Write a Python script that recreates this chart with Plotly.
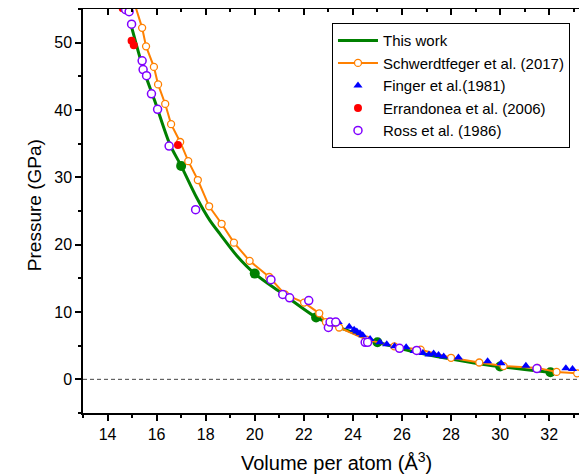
import plotly.graph_objects as go

# This work (curve) and its highlighted points
this_x = [14.93, 15.45, 15.93, 16.54, 17.0, 17.63, 18.17, 18.58, 19.26, 20.0, 21.1, 22.5,
          23.0, 23.5, 24.0, 24.5, 25.0, 25.5, 26.0, 27.0, 28.0, 29.0, 30.0, 31.0, 32.1]
this_y = [53.0, 46.2, 41.3, 34.9, 31.7, 27.0, 23.6, 21.6, 18.4, 15.7, 12.8, 9.2,
          8.4, 7.65, 6.95, 6.2, 5.5, 5.0, 4.5, 3.7, 3.0, 2.4, 1.9, 1.45, 1.0]
dots_x = [17.0, 20.0, 22.5, 25.0, 30.0, 32.05]
dots_y = [31.7, 15.7, 9.2, 5.5, 1.9, 1.05]

# Schwerdtfeger et al. (2017)
sch_x = [15.1, 15.41, 15.57, 15.89, 16.06, 16.35, 16.59, 16.96, 17.29, 17.68, 18.14, 18.65,
         19.15, 19.79, 20.59, 21.23, 22.01, 22.63, 22.9, 23.44, 24.55, 25.69, 26.76, 28.0,
         29.15, 30.14, 31.52, 32.3, 33.14, 33.7]
sch_y = [55.8, 52.2, 49.45, 46.4, 43.8, 40.9, 37.9, 35.25, 32.4, 29.6, 25.7, 23.1,
         20.3, 17.6, 15.2, 12.6, 11.4, 9.8, 8.5, 7.7, 5.9, 4.9, 4.4, 3.2,
         2.5, 1.97, 1.7, 1.1, 0.89, 0.7]

# Finger et al. (1981)
fin_x = [23.4, 23.85, 24.05, 24.16, 24.29, 24.4, 24.7, 25.1, 25.38, 25.7, 26.17, 26.5,
         26.85, 27.1, 27.29, 27.49, 27.7, 28.3, 29.49, 30.04, 31.05, 32.68, 32.95]
fin_y = [8.5, 7.8, 7.35, 7.1, 6.85, 6.55, 6.0, 5.5, 5.2, 4.9, 4.75, 4.2,
         3.9, 3.7, 3.85, 3.6, 3.4, 3.25, 2.7, 2.4, 2.0, 1.65, 1.55]

# Errandonea et al. (2006)
err_x = [14.62, 14.98, 15.07, 16.87]
err_y = [55.1, 50.3, 49.6, 34.8]

# Ross et al. (1986)
ros_x = [14.74, 14.88, 14.98, 15.41, 15.45, 15.59, 15.79, 16.04, 16.51, 17.59, 20.66, 21.14,
         21.42, 22.2, 23.0, 23.07, 23.3, 24.5, 24.6, 25.9, 26.6, 31.5]
ros_y = [54.9, 54.6, 52.75, 47.3, 46.0, 45.1, 42.4, 40.1, 34.65, 25.2, 14.8, 12.6,
         12.1, 11.7, 7.7, 8.5, 8.5, 5.5, 5.5, 4.6, 4.3, 1.6]

x_ticks = [14, 16, 18, 20, 22, 24, 26, 28, 30, 32]
y_ticks = [0, 10, 20, 30, 40, 50]
x_range = [13, 33.5]
y_range = [-5, 55]

GREEN = "#008000"
ORANGE = "#FF8000"
BLUE = "#0000FF"
RED = "#FF0000"
PURPLE = "#8000FF"
FONT = "Liberation Sans, Arial, sans-serif"

fig = go.Figure()
fig.add_trace(go.Scatter(x=this_x, y=this_y, mode="lines", name="This work",
                         line=dict(color=GREEN, width=3, shape="spline", smoothing=0.8)))
fig.add_trace(go.Scatter(x=dots_x, y=dots_y, mode="markers", showlegend=False,
                         marker=dict(color=GREEN, size=10, symbol="circle")))
fig.add_trace(go.Scatter(x=sch_x, y=sch_y, mode="lines+markers",
                         name="Schwerdtfeger et al. (2017)",
                         line=dict(color=ORANGE, width=2),
                         marker=dict(symbol="circle", size=7, color="white",
                                     line=dict(color=ORANGE, width=1.3))))
fig.add_trace(go.Scatter(x=fin_x, y=fin_y, mode="markers", name="Finger et al.(1981)",
                         marker=dict(symbol="triangle-up", size=8, color=BLUE)))
fig.add_trace(go.Scatter(x=err_x, y=err_y, mode="markers", name="Errandonea et al. (2006)",
                         marker=dict(symbol="circle", size=8, color=RED)))
fig.add_trace(go.Scatter(x=ros_x, y=ros_y, mode="markers", name="Ross et al. (1986)",
                         marker=dict(symbol="circle", size=8, color="white",
                                     line=dict(color=PURPLE, width=1.5))))

fig.add_shape(type="line", xref="paper", yref="y", x0=0, x1=1, y0=0, y1=0,
              line=dict(color="#444444", width=1, dash="4px,3px"), layer="below")

# axis titles as annotations for exact placement
fig.add_annotation(text="Volume per atom (Å<sup>3</sup>)", xref="paper", yref="paper",
                   x=0.503, y=-0.12, xanchor="center", yanchor="middle", showarrow=False,
                   font=dict(family=FONT, size=20, color="black"))
fig.add_annotation(text="Pressure (GPa)", xref="paper", yref="paper",
                   x=-0.095, y=0.515, xanchor="center", yanchor="middle", showarrow=False,
                   textangle=-90, font=dict(family=FONT, size=19, color="black"))

axis_common = dict(showgrid=False, zeroline=False, linecolor="black", linewidth=1.5,
                   tickcolor="black", tickwidth=1.5, ticklen=6, automargin=False,
                   tickfont=dict(family=FONT, size=16, color="black"))

# The page body adds an 8 px offset, so the figure is sized to fill the rest of the window.
fig.update_layout(
    width=579, height=468,
    margin=dict(l=75, r=1, t=1, b=63),
    paper_bgcolor="white", plot_bgcolor="white",
    font=dict(family=FONT, color="black"),
    xaxis=dict(range=x_range, tickvals=x_ticks, ticks="outside", showline=True, mirror=True,
               minor=dict(dtick=1, tick0=13, ticks="outside", ticklen=3, tickwidth=1.5,
                          tickcolor="black"),
               **axis_common),
    yaxis=dict(range=y_range, tickvals=y_ticks, ticks="outside", showline=True, mirror=True,
               minor=dict(dtick=5, tick0=-5, ticks="outside", ticklen=3, tickwidth=1.5,
                          tickcolor="black"),
               **axis_common),
    xaxis2=dict(range=x_range, overlaying="x", side="top", anchor="y", tickvals=x_ticks,
                ticks="inside", showticklabels=False, showline=False, showgrid=False,
                zeroline=False, ticklen=6, tickwidth=1.5, tickcolor="black", automargin=False,
                minor=dict(dtick=1, tick0=13, ticks="inside", ticklen=3, tickwidth=1.5,
                           tickcolor="black")),
    yaxis2=dict(range=y_range, overlaying="y", side="right", anchor="x", tickvals=y_ticks,
                ticks="inside", showticklabels=False, showline=False, showgrid=False,
                zeroline=False, ticklen=6, tickwidth=1.5, tickcolor="black", automargin=False,
                minor=dict(dtick=5, tick0=-5, ticks="inside", ticklen=3, tickwidth=1.5,
                           tickcolor="black")),
    legend=dict(x=0.495, y=0.965, xanchor="left", yanchor="top",
                bgcolor="white", bordercolor="black", borderwidth=1,
                font=dict(family=FONT, size=15, color="black"),
                tracegroupgap=0, itemwidth=40),
)

# dummy trace to activate the mirrored tick axes
fig.add_trace(go.Scatter(x=[None], y=[None], xaxis="x2", yaxis="y2", showlegend=False,
                         hoverinfo="skip"))

fig.write_html("out.html")
